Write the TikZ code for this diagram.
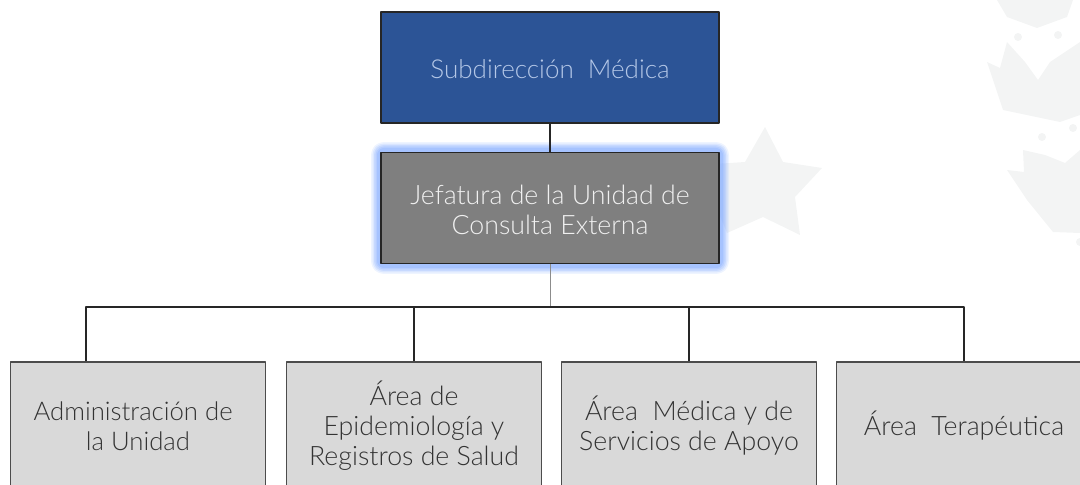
\documentclass[tikz,border=0pt]{standalone}
\usepackage{fontspec}
\setmainfont{Lato Light}
\definecolor{azul}{HTML}{2C5496}
\definecolor{azulclaro}{HTML}{B4C7E7}
\definecolor{brillo}{HTML}{8DB2FF}
\definecolor{gris}{HTML}{7F7F7F}
\definecolor{grisclaro}{HTML}{D9D9D9}
\definecolor{fondo}{HTML}{F3F4F4}
\newcommand{\alto}[1]{\rule{0pt}{#1}}
\tikzset{
	caja/.style={draw=black!85, line width=1pt, rectangle, align=center, inner sep=0pt, font=\fontsize{19}{21.3}\selectfont},
	cajasup/.style={caja, minimum width=8.45cm, minimum height=2.78cm},
	area/.style={caja, draw=black!70, fill=grisclaro, text=black!80, minimum width=6.38cm, minimum height=3.2cm},
	linea/.style={line width=1.3pt, draw=black!85},
	marca/.style={fill=fondo, draw=none}
}
\begin{document}
\begin{tikzpicture}[x=0.025cm, y=-0.025cm, line join=round]
	\useasboundingbox (0,0) rectangle (1080,485);
	\clip (0,0) rectangle (1080,485);
	% watermark
	\fill[marca] (727,233)--(700,165)--(745,162)--(765,127)--(783,162)--(822,168)--(795,197)--(800,235)--(763,217)--cycle;
	\fill[marca] (997,0)--(1007,17)--(1037,28)--(1067,17)--(1073,0)--cycle;
	\fill[marca] (987,62)--(1000,68)--(1007,42)--(1025,62)--(1038,80)--(1050,62)--(1080,42)--(1080,115)--(1060,122)--(1003,110)--cycle;
	\fill[marca] (1007,170)--(1024,172)--(1023,150)--(1045,155)--(1065,163)--(1080,150)--(1080,233)--(1053,232)--(1027,200)--cycle;
	\fill[marca] (1018,37) circle (4) (1058,35) circle (4) (1042,137) circle (4) (1073,128) circle (4) (1080,242) circle (4);
	% glow
	\foreach \w/\o in {20/.15, 17/.2, 14/.25, 11/.3, 8/.4}
		\draw[brillo, opacity=\o, line width=\w*0.711pt, rounded corners=2pt] (381,152) rectangle (719,264);
	% boxes
	\node[cajasup, fill=azul, text=azulclaro, font=\fontsize{18.5}{21.3}\selectfont] (subdir) at (550,67.5) {\alto{16pt}Subdirección\ \ Médica};
	\node[cajasup, fill=gris, text=black!6] (jefatura) at (550,208) {\alto{16pt}Jefatura de la Unidad de\\Consulta Externa};
	\node[area, font=\fontsize{18.3}{21.3}\selectfont] (admin) at (138,426) {Administración de\hspace*{7pt}\\la Unidad};
	\node[area] (epidem) at (414,426) {Área de\\Epidemiología y\\Registros de Salud};
	\node[area] (medica) at (689,426) {Área\ \ Médica y de\\Servicios de Apoyo};
	\node[area] (terap) at (964,426) {Área\ \ Terapéutica};
	% connectors
	\coordinate (bus) at (550,307);
	\coordinate (busizq) at (86,307);
	\coordinate (busder) at (964,307);
	\draw[linea] (subdir) -- (jefatura);
	\draw[line width=0.7pt, draw=black!45] (jefatura) -- (bus);
	\draw[linea] (busizq |- admin.north) -- (busizq) -- (busder) -- (terap.north);
	\draw[linea] (epidem.north) -- (epidem.north |- bus);
	\draw[linea] (medica.north) -- (medica.north |- bus);
\end{tikzpicture}
\end{document}
